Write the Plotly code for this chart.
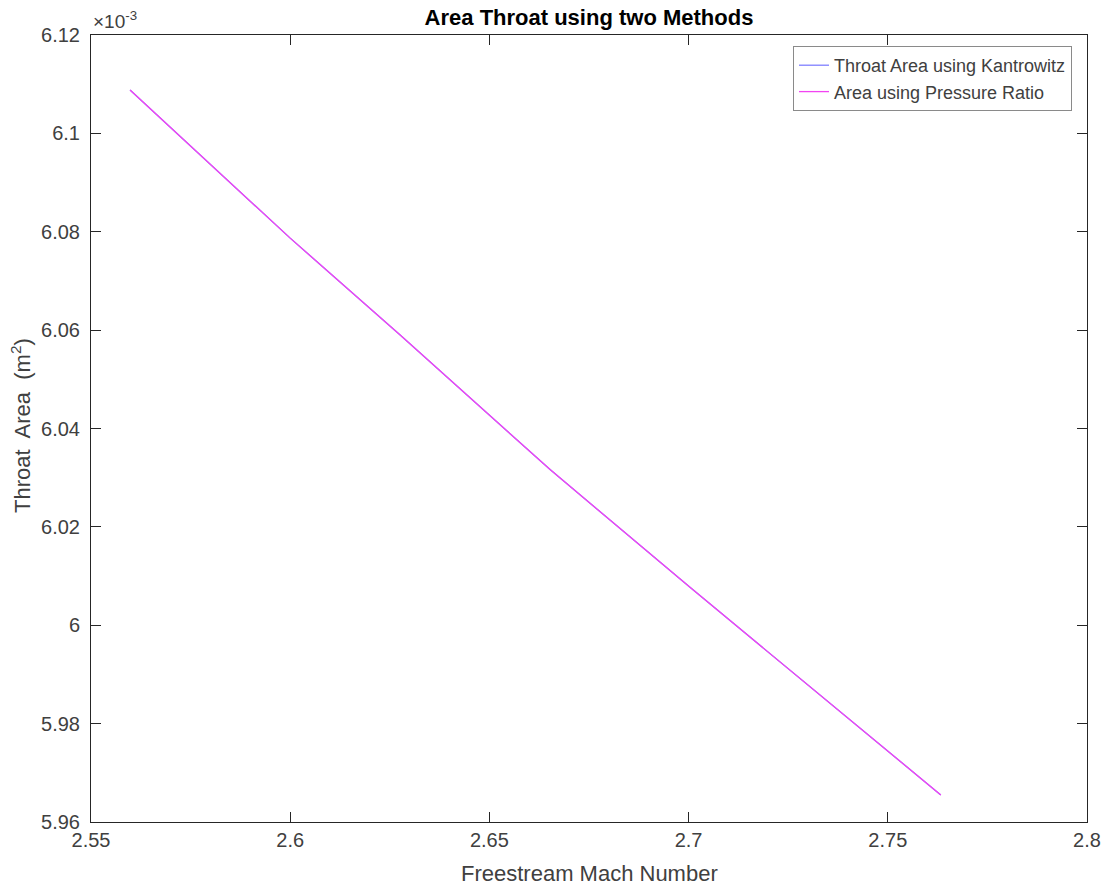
import plotly.graph_objects as go

# Freestream Mach number (x) and throat area in units of 1e-3 m^2 (y)
mach = [2.5598, 2.6000, 2.6276, 2.6653, 2.7005, 2.7339, 2.7633]
area_kantrowitz = [6.1088, 6.0787, 6.0590, 6.0316, 6.0076, 5.9852, 5.9655]
area_pressure = [6.1088, 6.0787, 6.0590, 6.0316, 6.0076, 5.9852, 5.9655]

x_ticks = [2.55, 2.6, 2.65, 2.7, 2.75, 2.8]
x_ticktext = ["2.55", "2.6", "2.65", "2.7", "2.75", "2.8"]
y_ticks = [5.96, 5.98, 6.0, 6.02, 6.04, 6.06, 6.08, 6.1, 6.12]
y_ticktext = ["5.96", "5.98", "6", "6.02", "6.04", "6.06", "6.08", "6.1", "6.12"]

FONT = "Liberation Sans, Arial, Helvetica, sans-serif"
AX = "#262626"
TXT = "#404040"

L, R, T, B = 91, 20, 35, 64
PW, PH = 1107 - L - R, 886 - T - B

fig = go.Figure()
fig.add_trace(go.Scatter(x=mach, y=area_kantrowitz, mode="lines",
                         name="Throat Area using Kantrowitz",
                         line=dict(color="#7f7fff", width=1.3)))
fig.add_trace(go.Scatter(x=mach, y=area_pressure, mode="lines",
                         name="Area using Pressure Ratio",
                         line=dict(color="#f244f2", width=1.3)))

fig.update_layout(
    width=1107, height=886,
    margin=dict(l=L, r=R, t=T, b=B, autoexpand=False),
    paper_bgcolor="white", plot_bgcolor="white",
    font=dict(family=FONT, size=20, color=TXT),
    title=dict(text="<b>Area Throat using two Methods</b>", x=0.5, xanchor="center",
               xref="paper", y=1 - 17 / 886, yanchor="middle",
               font=dict(family=FONT, size=22, color="black")),
    legend=dict(x=(1072 - L) / PW, y=1 - (46 - T) / PH, xanchor="right", yanchor="top",
                bgcolor="white", bordercolor="#8a8a8a", borderwidth=1,
                font=dict(family=FONT, size=18, color=TXT),
                tracegroupgap=0),
    showlegend=True,
)
fig.update_xaxes(range=[2.55, 2.8], tickvals=x_ticks, ticktext=x_ticktext,
                 showgrid=False, zeroline=False, automargin=False,
                 showline=True, linecolor=AX, linewidth=1, mirror="ticks",
                 ticks="inside", ticklen=10, tickcolor=AX,
                 tickfont=dict(size=20, color=TXT))
fig.update_yaxes(range=[5.96, 6.12], tickvals=y_ticks, ticktext=y_ticktext,
                 showgrid=False, zeroline=False, automargin=False,
                 showline=True, linecolor=AX, linewidth=1, mirror="ticks",
                 ticks="inside", ticklen=10, tickcolor=AX,
                 tickfont=dict(size=20, color=TXT), ticklabelstandoff=6)
fig.add_annotation(text="Freestream Mach Number", xref="paper", yref="paper",
                   x=0.5, y=(822 - 873) / PH, xanchor="center", yanchor="middle",
                   showarrow=False, font=dict(family=FONT, size=22, color=TXT))
fig.add_annotation(text="Throat  Area  (m<sup>2</sup>)", xref="paper", yref="paper",
                   x=(21 - L) / PW, y=(822 - 426) / PH, xanchor="center", yanchor="middle",
                   textangle=-90, showarrow=False, font=dict(family=FONT, size=22, color=TXT))
fig.add_annotation(text="×10<sup>-3</sup>", xref="paper", yref="paper", x=0, y=1,
                   xanchor="left", yanchor="bottom", showarrow=False, xshift=0, yshift=1,
                   font=dict(family=FONT, size=19, color=TXT))

fig.write_html("out.html")
